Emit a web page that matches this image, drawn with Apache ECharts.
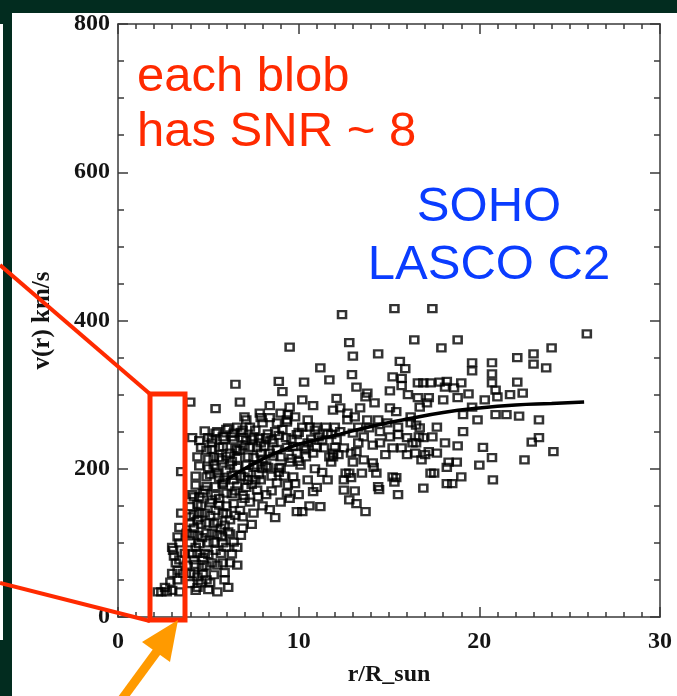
<!DOCTYPE html>
<html>
<head>
<meta charset="utf-8">
<script src="https://cdn.jsdelivr.net/npm/echarts@6/dist/echarts.min.js"></script>
<style>
  html, body { margin: 0; padding: 0; background: #022c1f; }
  #panel { position: absolute; left: 12px; top: 13px; width: 665px; height: 683px; background: #fff; }
  #sliver { position: absolute; left: 0; top: 24px; width: 3px; height: 616px; background: #fff; }
  #chart { position: absolute; left: 0; top: 0; width: 677px; height: 696px; }
</style>
</head>
<body>
<div id="panel"></div>
<div id="sliver"></div>
<div id="chart"></div>
<script>
// blobs inside the red box (r < 3.7 R_sun)
const innerColumn = [
  [2.2, 34], [2.4, 34], [2.7, 34], [3.0, 36], [3.4, 34], [2.6, 40], [2.9, 47], [3.3, 50],
  [3.0, 59], [3.6, 59], [3.3, 63], [3.2, 73], [3.4, 77], [3.1, 82], [3.05, 90], [3.0, 94],
  [3.4, 100], [3.3, 108], [3.4, 121], [3.5, 140], [3.5, 196]
];

// dense blob, r from 3.7 to 12
const mainBlob = [
  [3.7, 86], [3.8, 113], [4.0, 135], [4.0, 149], [4.2, 162], [4.1, 242], [4.0, 59], [4.2, 77],
  [4.2, 120], [4.0, 127], [4.3, 94], [4.4, 54], [4.4, 40], [4.4, 131],
  [4.9, 225], [5.2, 235], [5.8, 243], [6.1, 255], [6.6, 256], [7.1, 266], [7.3, 256], [7.9, 269],
  [8.0, 262], [8.4, 269], [8.8, 262], [9.35, 266], [9.8, 270], [9.4, 273], [10.5, 266], [10.6, 256],
  [11.0, 256], [11.5, 256], [10.2, 256], [9.9, 246], [10.5, 235], [11.3, 239], [11.8, 246], [12.0, 229],
  [11.7, 216], [10.8, 221], [9.9, 221], [9.35, 229], [8.6, 235], [8.2, 242], [7.9, 235], [7.5, 243],
  [6.9, 242], [6.4, 239], [5.6, 229], [5.3, 216], [5.75, 212], [6.2, 221], [6.75, 225], [7.3, 229],
  [7.9, 221], [8.4, 221], [9.0, 216], [9.5, 209], [10.1, 205], [9.0, 202], [8.3, 202], [7.7, 205],
  [7.1, 205], [6.6, 202], [6.0, 198], [5.5, 194], [5.8, 181], [6.4, 185], [5.4, 176], [4.9, 189],
  [4.8, 171], [4.5, 162], [5.2, 158], [5.6, 160], [6.0, 167], [5.4, 144], [4.8, 140], [4.9, 127],
  [5.5, 128], [5.8, 140], [5.2, 113], [5.75, 108], [4.65, 107], [4.8, 86], [5.4, 90], [6.0, 94],
  [4.65, 67], [5.2, 73], [5.8, 73], [4.9, 50], [5.1, 46], [5.5, 34], [5.9, 50], [6.2, 73],
  [6.6, 70], [6.4, 101], [6.6, 94], [6.9, 120], [6.9, 135], [6.2, 131], [6.75, 144], [7.3, 155],
  [7.75, 162], [7.1, 175], [7.7, 171], [8.2, 165], [8.8, 181], [9.35, 167], [8.7, 134], [9.9, 142],
  [10.2, 142], [11.2, 149], [10.8, 169], [10.5, 185], [11.6, 185], [11.9, 216], [9.7, 189], [7.9, 185],
  [7.0, 270], [7.85, 275], [9.0, 275], [9.35, 263],
  [5.0, 200], [5.3, 205], [5.6, 215], [6.3, 210], [6.8, 190], [7.2, 195], [7.5, 215], [8.0, 200],
  [8.5, 190], [6.5, 170], [6.0, 150], [5.7, 120], [5.0, 100], [4.7, 80], [6.1, 115], [7.0, 160],
  [7.6, 185], [8.1, 230], [8.7, 250], [6.4, 248], [5.5, 250], [5.2, 240], [6.9, 252], [4.6, 150],
  [4.4, 110], [5.9, 185], [6.6, 225], [7.4, 240], [8.9, 245], [9.6, 240], [10.3, 230], [9.2, 190],
  [8.5, 170], [9.8, 180], [10.9, 200], [11.4, 228], [10.0, 210],
  [7.5, 140], [8.0, 150], [8.4, 145], [9.0, 155], [9.5, 160], [10.0, 165], [10.6, 150], [11.0, 175],
  [8.9, 195], [9.4, 178], [7.2, 185], [11.3, 195], [6.8, 110], [7.4, 125], [6.3, 85], [5.9, 60], [6.1, 40]
];

// solid black core of the blob
const coreBlob = [
  [4.8, 251], [5.4, 248], [6.0, 253], [6.8, 249], [7.6, 252], [8.3, 247], [9.1, 253], [10.0, 249], [10.9, 252], [11.6, 248],
  [4.5, 238], [5.0, 242], [5.9, 239], [6.3, 243], [7.1, 238], [7.8, 241], [8.5, 239], [9.3, 242], [10.7, 240], [11.1, 243],
  [4.6, 229], [5.2, 226], [5.8, 230], [6.5, 227], [7.0, 231], [7.7, 228], [8.8, 226], [9.7, 230], [10.4, 227], [11.0, 229],
  [4.4, 216], [5.0, 213], [6.0, 217], [6.6, 214], [7.2, 216], [8.0, 213], [8.6, 217], [9.6, 214], [10.4, 216],
  [4.5, 204], [5.4, 201], [6.2, 205], [7.5, 202], [8.2, 204], [8.9, 201],
  [4.3, 190], [5.1, 192], [5.6, 188], [6.3, 191], [7.0, 189], [7.8, 192],
  [4.3, 178], [4.9, 176], [5.8, 179], [6.6, 177], [7.4, 179],
  [4.1, 165], [4.7, 167], [5.4, 164], [6.3, 166], [6.9, 164],
  [4.4, 152], [5.1, 154], [5.6, 151], [6.4, 153],
  [4.2, 138], [4.5, 140], [5.1, 137], [6.0, 139], [6.5, 137],
  [4.6, 125], [5.3, 126], [5.9, 124],
  [4.1, 112], [4.9, 113], [5.5, 111], [6.2, 112],
  [4.0, 100], [4.5, 99], [5.3, 101], [5.8, 100],
  [4.1, 85], [4.4, 86], [5.0, 84], [5.7, 86],
  [3.8, 70], [4.3, 71], [4.9, 69], [5.5, 70],
  [4.2, 58], [4.7, 59], [5.3, 57],
  [4.0, 45], [4.6, 46],
  [4.3, 36], [5.0, 37]
];

// scattered blobs above the main group at small r
const upperBlobs = [
  [4.0, 290], [9.5, 364], [11.2, 336], [11.7, 320], [8.9, 318], [6.5, 314], [9.1, 304], [10.3, 317],
  [6.75, 290], [5.4, 281], [8.4, 285], [10.2, 293], [10.8, 285], [12.1, 295], [9.5, 283]
];

// blobs further out, r from 12 to 26
const outerBlobs = [
  [12.4, 408], [15.3, 416], [17.4, 416], [25.95, 382], [12.8, 370], [13.0, 352], [14.4, 355], [16.4, 374],
  [17.9, 363], [18.8, 374], [15.6, 345], [15.9, 335], [19.6, 343], [19.6, 332], [20.7, 343], [20.7, 328],
  [22.1, 350], [23.0, 355], [23.0, 341], [24.0, 363], [23.7, 336], [12.95, 327], [15.2, 324], [15.7, 322],
  [15.7, 312], [13.2, 310], [13.8, 302], [15.05, 305], [16.6, 316], [16.9, 316], [17.3, 316], [17.8, 317],
  [18.2, 318], [18.1, 310], [18.6, 309], [19.0, 316], [20.7, 316], [20.9, 306], [21.0, 297], [22.1, 317],
  [22.4, 302], [21.7, 300], [13.7, 297], [14.2, 289], [16.05, 300], [16.6, 296], [17.2, 296], [18.8, 296],
  [19.4, 301], [20.3, 293], [19.6, 283], [19.1, 273], [19.9, 266], [20.9, 273], [21.5, 273], [22.2, 271],
  [23.3, 266], [19.1, 250], [18.1, 235], [18.8, 231], [20.2, 229], [20.7, 215], [20.0, 205], [18.75, 209],
  [18.3, 209], [18.2, 202], [19.0, 189], [18.5, 180], [18.2, 180], [20.75, 185], [22.9, 236], [23.3, 242],
  [22.5, 212], [24.1, 223], [16.9, 174], [15.5, 165], [15.2, 189], [15.3, 182], [14.4, 176], [14.45, 172],
  [13.7, 142], [13.2, 153], [12.8, 158], [13.1, 170], [12.5, 171], [17.3, 194], [17.5, 194], [17.2, 223],
  [17.65, 221], [16.5, 235], [16.45, 221], [17.0, 219], [16.8, 212], [16.0, 219], [15.7, 228], [15.2, 228],
  [14.8, 219], [14.5, 235], [14.1, 232], [14.1, 208], [14.15, 202], [14.3, 194], [13.5, 194], [13.6, 212],
  [12.8, 194], [12.9, 188], [13.0, 209], [13.2, 223], [12.9, 221], [12.6, 194], [12.5, 185], [15.4, 188],
  [17.4, 243], [16.9, 242], [16.65, 243], [16.7, 255], [16.5, 259], [16.2, 262], [16.0, 242], [15.5, 246],
  [15.5, 256], [15.05, 243], [14.9, 262], [14.5, 250], [14.4, 266], [13.9, 255], [13.8, 266], [13.3, 256],
  [13.1, 270], [12.7, 266], [12.3, 250], [12.0, 256], [11.9, 279], [12.3, 282], [12.7, 275], [13.4, 282],
  [15.05, 282], [15.4, 277], [16.2, 270], [16.7, 283], [17.1, 289], [18.0, 293], [17.65, 256], [12.1, 239],
  [12.5, 228], [11.9, 221], [11.8, 209], [12.2, 219], [13.3, 235], [13.6, 243], [13.0, 248], [16.3, 235]
];

// fitted speed profile
const fitR = [6, 7, 8, 9, 10, 12, 14, 16, 18, 20, 22, 24, 25.8];
const fitV = [185, 200, 213, 224, 233, 245, 257, 267, 276, 282, 286, 288, 290];

const xTicks = [0, 10, 20, 30];
const yTicks = [0, 200, 400, 600, 800];

const chart = echarts.init(document.getElementById("chart"), null, { renderer: "canvas" });

const frame = "#3a3a3a";
const labelFont = {
  fontFamily: "Liberation Serif",
  fontWeight: "bold",
  fontSize: 24,
  color: "#141414"
};

function xAxisDef(pos, withLabels) {
  return {
    type: "value",
    position: pos,
    min: xTicks[0],
    max: xTicks[xTicks.length - 1],
    interval: xTicks[1] - xTicks[0],
    name: withLabels ? "r/R_sun" : "",
    nameLocation: "middle",
    nameGap: 46,
    nameTextStyle: Object.assign({}, labelFont, { fontSize: 24 }),
    axisLine: { show: true, onZero: false, lineStyle: { color: frame, width: 1.5 } },
    axisTick: { show: true, inside: true, length: 10, lineStyle: { color: frame, width: 1.5 } },
    minorTick: { show: true, splitNumber: 10, length: 5, lineStyle: { color: frame, width: 1.5 } },
    axisLabel: Object.assign({ show: withLabels, margin: 13 }, labelFont),
    splitLine: { show: false }
  };
}

function yAxisDef(pos, withLabels) {
  return {
    type: "value",
    position: pos,
    min: yTicks[0],
    max: yTicks[yTicks.length - 1],
    interval: yTicks[1] - yTicks[0],
    name: withLabels ? "v(r) km/s" : "",
    nameLocation: "middle",
    nameGap: 63,
    nameTextStyle: Object.assign({}, labelFont, { fontSize: 25 }),
    axisLine: { show: true, onZero: false, lineStyle: { color: frame, width: 1.5 } },
    axisTick: { show: true, inside: true, length: 10, lineStyle: { color: frame, width: 1.5 } },
    minorTick: { show: true, splitNumber: 4, length: 6, lineStyle: { color: frame, width: 1.5 } },
    axisLabel: Object.assign({ show: withLabels, margin: 8 }, labelFont),
    splitLine: { show: false }
  };
}

const squareStyle = {
  type: "scatter",
  symbol: "rect",
  symbolSize: [8, 7],
  itemStyle: { color: "rgba(0,0,0,0)", borderColor: "#000", borderWidth: 2.4 },
  silent: true
};

const red = "#ff2a00";
const blue = "#0a3cff";
const annFont = '49px "Liberation Sans", Arial, sans-serif';

chart.setOption({
  animation: false,
  backgroundColor: "transparent",
  grid: { left: 118, right: 17, top: 24, bottom: 79 },
  xAxis: [xAxisDef("bottom", true), xAxisDef("top", false)],
  yAxis: [yAxisDef("left", true), yAxisDef("right", false)],
  series: [
    Object.assign({ data: innerColumn }, squareStyle),
    Object.assign({ data: mainBlob }, squareStyle),
    Object.assign({ data: coreBlob }, squareStyle),
    Object.assign({ data: upperBlobs }, squareStyle),
    Object.assign({ data: outerBlobs }, squareStyle),
    {
      type: "line",
      data: fitR.map((r, i) => [r, fitV[i]]),
      smooth: true,
      showSymbol: false,
      lineStyle: { color: "#000", width: 3.5 },
      z: 5
    }
  ],
  graphic: [
    {
      type: "text", x: 137, y: 77, z: 100,
      style: { text: "each blob", fill: red, font: annFont,
        textVerticalAlign: "middle", verticalAlign: "middle" }
    },
    {
      type: "text", x: 137, y: 132, z: 100,
      style: { text: "has SNR ~ 8", fill: red, font: annFont,
        textVerticalAlign: "middle", verticalAlign: "middle" }
    },
    {
      type: "text", x: 489, y: 207, z: 100,
      style: { text: "SOHO", fill: blue, font: annFont,
        textAlign: "center", align: "center", textVerticalAlign: "middle", verticalAlign: "middle" }
    },
    {
      type: "text", x: 489, y: 265, z: 100,
      style: { text: "LASCO C2", fill: blue, font: annFont,
        textAlign: "center", align: "center", textVerticalAlign: "middle", verticalAlign: "middle" }
    },
    {
      type: "line", z: 100,
      shape: { x1: 0, y1: 265, x2: 150, y2: 394 },
      style: { stroke: red, lineWidth: 4 }
    },
    {
      type: "line", z: 100,
      shape: { x1: 0, y1: 583, x2: 150, y2: 621 },
      style: { stroke: red, lineWidth: 4 }
    },
    {
      type: "rect", z: 100,
      shape: { x: 150, y: 394, width: 35, height: 226 },
      style: { fill: "none", stroke: red, lineWidth: 5 }
    },
    {
      type: "line", z: 100,
      shape: { x1: 114, y1: 710, x2: 158, y2: 650 },
      style: { stroke: "#ff9a00", lineWidth: 9 }
    },
    {
      type: "polygon", z: 100,
      shape: { points: [[178, 620], [142, 642], [170, 662]] },
      style: { fill: "#ff9a00" }
    }
  ]
});
</script>
</body>
</html>
